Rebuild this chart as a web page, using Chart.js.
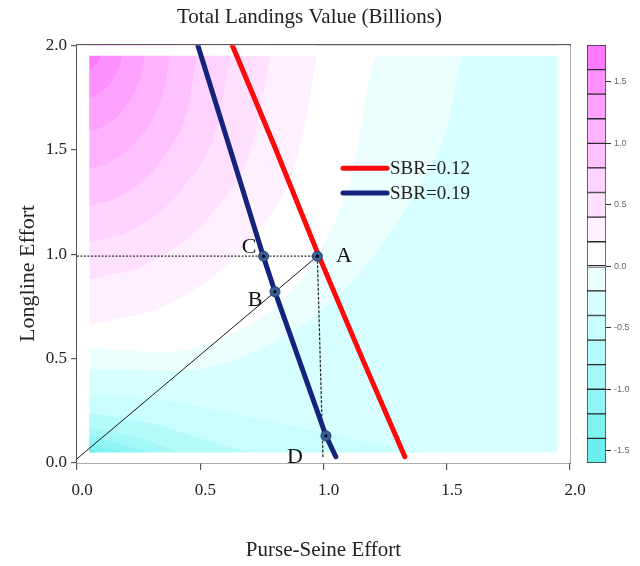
<!DOCTYPE html>
<html>
<head>
<meta charset="utf-8">
<script src="https://cdn.jsdelivr.net/npm/chart.js@4.4.1/dist/chart.umd.min.js"></script>
<style>
  html, body { margin:0; padding:0; background:#ffffff; }
  #wrap { position:relative; width:640px; height:566px; overflow:hidden; background:#fff; }
  #main { position:absolute; left:0; top:0; width:640px; height:566px; }
  #bar { position:absolute; left:560px; top:0; width:80px; height:566px; }
</style>
</head>
<body>
<div id="wrap">
  <canvas id="main" width="640" height="566"></canvas>
  <canvas id="bar" width="80" height="566"></canvas>
</div>
<script>
// ---------------- DATA ----------------
const chartTitle = 'Total Landings Value (Billions)';
const xAxisTitle = 'Purse-Seine Effort';
const yAxisTitle = 'Longline Effort';
const axisTicks = [0, 0.5, 1.0, 1.5, 2.0];

// Equal-SBR lines (purse-seine effort, longline effort)
const sbr012 = [[0.63, 2.00], [0.80, 1.52], [0.978, 1.00], [1.15, 0.52], [1.33, 0.03]];
const sbr019 = [[0.49, 2.00], [0.622, 1.50], [0.757, 0.985], [0.803, 0.82], [1.01, 0.13], [1.05, 0.03]];
const legendLabels = ['SBR=0.12', 'SBR=0.19'];

// Marked points
const pointNames = ['A', 'B', 'C', 'D'];
const pointX = [0.975, 0.803, 0.757, 1.01];
const pointY = [0.99, 0.82, 0.99, 0.13];

// Guide lines
const guideHorizontal = [[0, 0.99], [0.975, 0.99]];
const guideVertical = [[0.975, 0.99], [0.998, 0.02]];
const guideDiagonal = [[0, 0.02], [0.975, 0.99]];

// Extent of the contour field
const fieldMin = 0.05;
const fieldMax = 1.95;

// Contour lines above zero (value >= level lies above-left of the line)
const posLevels = [0.2, 0.4, 0.6, 0.8, 1.0, 1.2, 1.4, 1.6];
const pos02 = [[0.05, 0.662], [0.373, 0.762], [0.688, 1.053], [0.900, 1.487], [0.973, 1.95]];
const pos04 = [[0.05, 0.878], [0.300, 0.961], [0.554, 1.205], [0.723, 1.569], [0.782, 1.95]];
const pos06 = [[0.05, 1.056], [0.238, 1.125], [0.439, 1.330], [0.574, 1.637], [0.620, 1.95]];
const pos08 = [[0.05, 1.229], [0.187, 1.284], [0.344, 1.452], [0.450, 1.703], [0.486, 1.95]];
const pos10 = [[0.05, 1.407], [0.144, 1.447], [0.267, 1.577], [0.349, 1.771], [0.376, 1.95]];
const pos12 = [[0.05, 1.586], [0.106, 1.611], [0.195, 1.702], [0.255, 1.839], [0.274, 1.95]];
const pos14 = [[0.05, 1.746], [0.071, 1.757], [0.132, 1.814], [0.172, 1.899], [0.183, 1.95]];
const pos16 = [[0.05, 1.882], [0.075, 1.905], [0.098, 1.95]];

// Contour lines at or below zero (value < level lies below-right of the line)
const negLevels = [0.0, -0.2, -0.4, -0.6, -0.8, -1.0, -1.2, -1.4];
const neg00 = [[0.05, 0.55], [0.35, 0.53], [0.65, 0.63], [0.85, 0.80], [0.975, 0.99], [1.12, 1.40], [1.22, 1.95], [1.95, 1.95]];
const neg02 = [[0.05, 0.45], [0.40, 0.44], [0.80, 0.58], [1.10, 0.85], [1.35, 1.25], [1.50, 1.60], [1.57, 1.95], [1.95, 1.95]];
const neg04 = [[0.05, 0.33], [0.35, 0.30], [0.70, 0.22], [1.10, 0.12], [1.40, 0.05]];
const neg06 = [[0.05, 0.24], [0.30, 0.19], [0.55, 0.10], [0.70, 0.05]];
const neg08 = [[0.05, 0.17], [0.25, 0.12], [0.42, 0.05]];
const neg10 = [[0.05, 0.13], [0.18, 0.09], [0.30, 0.05]];
const neg12 = [[0.05, 0.10], [0.12, 0.07], [0.20, 0.05]];
const neg14 = [[0.05, 0.07], [0.09, 0.05]];

// Colour bar
const colorbarBounds = [-1.6, -1.4, -1.2, -1.0, -0.8, -0.6, -0.4, -0.2, 0.0, 0.2, 0.4, 0.6, 0.8, 1.0, 1.2, 1.4, 1.6, 1.8];
const colorbarTicks = [-1.5, -1.0, -0.5, 0.0, 0.5, 1.0, 1.5];

// ---------------- STYLE ----------------
const negColors = ['#ebffff', '#d8ffff', '#c8fefe', '#b6fbfb', '#a4f8f8', '#92f5f5', '#80f2f2', '#6ceeee'];
const posColors = ['#fff0ff', '#ffe1ff', '#ffd2ff', '#ffc2ff', '#ffb2ff', '#ffa2ff', '#ff90ff', '#ff7aff'];
const zeroColor = '#ffffff';
const serif = '"Liberation Serif", "Times New Roman", serif';
const frameColor = '#5a5a5a';
const labelAnchors = [['A', 1.083, 0.988], ['C', 0.698, 1.031], ['B', 0.722, 0.78], ['D', 0.884, 0.029]];
const legendAnchor = {x0: 1.079, x1: 1.258, xt: 1.27, y: [1.411, 1.292]};

const posContours = [pos02, pos04, pos06, pos08, pos10, pos12, pos14, pos16];
const negContours = [neg00, neg02, neg04, neg06, neg08, neg10, neg12, neg14];

const toXY = arr => arr.map(p => ({x: p[0], y: p[1]}));

const datasets = [];
let ord = 200;
negContours.forEach((c, i) => {
  datasets.push({
    type: 'line', label: 'v<' + negLevels[i], data: toXY(c),
    borderWidth: 0, pointRadius: 0, pointHoverRadius: 0, fill: 'start',
    backgroundColor: negColors[i], cubicInterpolationMode: 'monotone', order: ord--
  });
});
posContours.forEach((c, i) => {
  datasets.push({
    type: 'line', label: 'v>' + posLevels[i], data: toXY(c),
    borderWidth: 0, pointRadius: 0, pointHoverRadius: 0, fill: 'end',
    backgroundColor: posColors[i], cubicInterpolationMode: 'monotone', order: ord--
  });
});
[
  [[0, fieldMax], [2, fieldMax], 'end'],
  [[0, fieldMin], [2, fieldMin], 'start'],
  [[0, 2], [fieldMin, 2], 'start'],
  [[fieldMax, 2], [2, 2], 'start']
].forEach(m => {
  datasets.push({
    type: 'line', label: 'margin', data: toXY([m[0], m[1]]),
    borderWidth: 0, pointRadius: 0, pointHoverRadius: 0, fill: m[2],
    backgroundColor: '#ffffff', order: ord--
  });
});
datasets.push({type: 'line', label: 'diag', data: toXY(guideDiagonal), borderColor: '#1a1a1a', borderWidth: 1,
  pointRadius: 0, fill: false, order: 20});
datasets.push({type: 'line', label: 'horiz', data: toXY(guideHorizontal), borderColor: '#333333', borderWidth: 1.3,
  borderDash: [2, 1.5], pointRadius: 0, fill: false, order: 19});
datasets.push({type: 'line', label: 'vert', data: toXY(guideVertical), borderColor: '#333333', borderWidth: 1.3,
  borderDash: [3, 1.5], pointRadius: 0, fill: false, order: 18});
datasets.push({type: 'line', label: legendLabels[1], data: toXY(sbr019), borderColor: '#14247c', borderWidth: 5,
  pointRadius: 0, fill: false, borderCapStyle: 'round', order: 11});
datasets.push({type: 'line', label: legendLabels[0], data: toXY(sbr012), borderColor: '#ff0a0a', borderWidth: 5,
  pointRadius: 0, fill: false, borderCapStyle: 'round', order: 10});
const markerData = pointNames.map((n, i) => ({x: pointX[i], y: pointY[i]}));
datasets.push({type: 'scatter', label: 'points', data: markerData, pointRadius: 5, pointBackgroundColor: '#3a5f97',
  pointBorderColor: '#22406f', pointBorderWidth: 1, order: 2});
datasets.push({type: 'scatter', label: 'centres', data: markerData, pointRadius: 1.6, pointBackgroundColor: '#000',
  pointBorderWidth: 0, order: 1});

const annotations = {
  id: 'annotations',
  afterDatasetsDraw(chart) {
    const {ctx} = chart;
    const xs = chart.scales.x, ys = chart.scales.y;
    ctx.save();
    ctx.fillStyle = '#111';
    ctx.font = '22px ' + serif;
    ctx.textAlign = 'center';
    ctx.textBaseline = 'middle';
    labelAnchors.forEach(([t, x, y]) => ctx.fillText(t, xs.getPixelForValue(x), ys.getPixelForValue(y)));
    const legendColors = ['#ff0a0a', '#14247c'];
    ctx.font = '19px ' + serif;
    ctx.textAlign = 'left';
    legendLabels.forEach((lab, i) => {
      const py = ys.getPixelForValue(legendAnchor.y[i]);
      ctx.strokeStyle = legendColors[i];
      ctx.lineWidth = 5;
      ctx.lineCap = 'round';
      ctx.beginPath();
      ctx.moveTo(xs.getPixelForValue(legendAnchor.x0), py);
      ctx.lineTo(xs.getPixelForValue(legendAnchor.x1), py);
      ctx.stroke();
      ctx.fillStyle = '#222';
      ctx.fillText(lab, xs.getPixelForValue(legendAnchor.xt), py + 1);
    });
    ctx.restore();
  }
};

const setTicks = s => { s.ticks = axisTicks.map(v => ({value: v})); };
const tickFmt = v => Number(v).toFixed(1);

new Chart(document.getElementById('main'), {
  type: 'scatter',
  data: {datasets},
  options: {
    responsive: false,
    animation: false,
    events: [],
    layout: {padding: {left: 0, right: 21, top: 0, bottom: 0}},
    plugins: {
      legend: {display: false},
      tooltip: {enabled: false},
      title: {
        display: true, text: chartTitle, color: '#222',
        font: {family: serif, size: 21, weight: 'normal'},
        padding: {top: 5, bottom: 15}
      }
    },
    scales: {
      x: {
        type: 'linear', position: 'bottom', min: 0, max: 2,
        afterBuildTicks: setTicks,
        afterFit(s) { s.height = 103; },
        ticks: {callback: tickFmt, color: '#222', font: {family: serif, size: 17}, padding: 10, labelOffset: 5, maxRotation: 0},
        grid: {drawOnChartArea: false, tickLength: 7, color: frameColor, lineWidth: 1.2},
        border: {display: true, color: frameColor, width: 1.5},
        title: {display: true, text: xAxisTitle, color: '#222', font: {family: serif, size: 21}, padding: {top: 0, bottom: 3.4}}
      },
      y: {
        type: 'linear', position: 'left', min: 0, max: 2,
        afterBuildTicks: setTicks,
        afterFit(s) { s.width = 77; },
        ticks: {callback: tickFmt, color: '#222', font: {family: serif, size: 17}, padding: 4},
        grid: {drawOnChartArea: false, tickLength: 6, color: frameColor, lineWidth: 1.2},
        border: {display: true, color: frameColor, width: 1.5},
        title: {display: true, text: yAxisTitle + '       ', color: '#222', font: {family: serif, size: 22}, padding: {top: 14.8, bottom: 0}}
      },
      xTop: {
        type: 'linear', position: 'top', min: 0, max: 2,
        afterFit(s) { s.height = 0; },
        ticks: {display: false},
        grid: {display: false},
        border: {display: true, color: frameColor, width: 1.5}
      },
      yRight: {
        type: 'linear', position: 'right', min: 0, max: 2,
        afterFit(s) { s.width = 49; },
        ticks: {display: false},
        grid: {display: false},
        border: {display: true, color: frameColor, width: 1.5}
      }
    }
  },
  plugins: [annotations]
});

// ---------------- COLOUR BAR ----------------
const cellColors = negColors.slice().reverse().concat([zeroColor]).concat(posColors);
const barDatasets = [];
for (let i = 0; i < colorbarBounds.length - 1; i++) {
  barDatasets.push({
    label: 'cell' + i,
    data: [[colorbarBounds[i], colorbarBounds[i + 1]]],
    backgroundColor: cellColors[i],
    borderColor: '#2a2a2a',
    borderWidth: 1,
    borderSkipped: false,
    grouped: false,
    barPercentage: 1,
    categoryPercentage: 1
  });
}
new Chart(document.getElementById('bar'), {
  type: 'bar',
  data: {labels: [''], datasets: barDatasets},
  options: {
    responsive: false,
    animation: false,
    events: [],
    layout: {padding: {left: 27, right: 0, top: 45, bottom: 103}},
    plugins: {legend: {display: false}, tooltip: {enabled: false}},
    scales: {
      x: {display: false},
      y: {
        position: 'right', min: colorbarBounds[0], max: colorbarBounds[colorbarBounds.length - 1],
        afterBuildTicks(s) { s.ticks = colorbarTicks.map(v => ({value: v})); },
        afterFit(s) { s.width = 34; },
        ticks: {callback: tickFmt, color: '#666', font: {family: '"Liberation Sans", sans-serif', size: 9}, padding: 3},
        grid: {drawOnChartArea: false, tickLength: 5, color: '#2a2a2a', lineWidth: 1},
        border: {display: false}
      }
    }
  }
});
</script>
</body>
</html>
